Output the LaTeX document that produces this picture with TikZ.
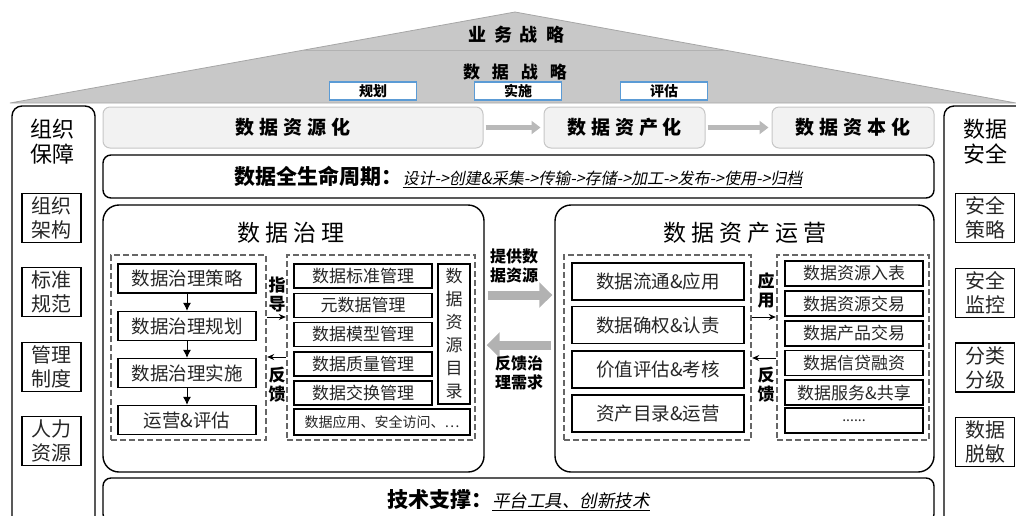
\documentclass[tikz,border=0pt]{standalone}
\usepackage{fontspec}
\setmainfont{Noto Sans CJK SC}
\newfontfamily\itfont{Noto Sans CJK SC}[FakeSlant=0.2]
\usetikzlibrary{arrows.meta,positioning}
\definecolor{planblue}{HTML}{5B9BD5}
\definecolor{roofgray}{HTML}{C8C8C8}
\tikzset{
  roof/.style={fill=roofgray,draw=gray!70,line width=0.8pt},
  planbox/.style={draw=planblue,fill=white,line width=1.5pt,minimum width=87pt,minimum height=18pt,inner sep=0pt,font=\fontsize{14}{16}\selectfont\bfseries},
  colbox/.style={draw,line width=1.4pt,rounded corners=10pt},
  coltitle/.style={align=center,font=\fontsize{22}{25}\selectfont},
  sidebox/.style={draw,line width=1.3pt,minimum width=59pt,minimum height=49pt,inner sep=0pt,align=center,font=\fontsize{20}{24}\selectfont,text=black!85},
  stagebox/.style={draw=gray!45,fill=gray!10,line width=1pt,rounded corners=7pt,minimum height=41pt,inner sep=0pt,font=\fontsize{19}{22}\selectfont\bfseries},
  stagearrow/.style={draw=gray!55,line width=5pt,-{Triangle[length=9pt,width=13pt]},shorten <=2pt,shorten >=3pt},
  linebox/.style={draw,line width=1.4pt,rounded corners=8pt,minimum width=831pt,inner sep=0pt},
  bigbox/.style={draw,line width=1.4pt,rounded corners=16pt,minimum height=267pt,inner sep=0pt},
  bigtitle/.style={font=\fontsize{23}{26}\selectfont},
  dashbox/.style={draw=black!60,line width=2.4pt,dash pattern=on 6pt off 3pt,minimum height=185pt,inner sep=0pt},
  stepbox/.style={draw,line width=1.3pt,inner sep=0pt,font=\fontsize{18.5}{22}\selectfont,text=black!85},
  mgbox/.style={draw,line width=1.3pt,inner sep=0pt,font=\fontsize{17}{20}\selectfont,text=black!85},
  steparrow/.style={-{Latex[length=8pt,width=8pt]},line width=1pt},
  thinarrow/.style={-{Stealth[length=7pt,width=6pt]},line width=1pt},
  sidelabel/.style={align=center,inner sep=0pt,font=\fontsize{17}{19}\selectfont\bfseries},
  midlabel/.style={align=center,inner sep=0pt,font=\fontsize{16}{18.5}\selectfont\bfseries},
  bigarrow/.style={draw=gray!60,line width=9pt,-{Triangle[length=13pt,width=25pt]},shorten <=3pt,shorten >=2pt}
}
\begin{document}
\begin{tikzpicture}[x=1pt,y=-1pt]
\useasboundingbox (0,0) rectangle (1016,515);
\filldraw[roof] (10,103) -- (515,12) -- (1016,103) -- cycle;
\draw[gray!60,line width=1pt] (302,50) -- (726,50);
\node[font=\fontsize{18}{20}\selectfont\bfseries] (biz) at (516,35) {业\hspace{8pt}务\hspace{8pt}战\hspace{8pt}略};
\node[font=\fontsize{17}{20}\selectfont\bfseries] (dstr) at (515,72) {数\hspace{12pt}据\hspace{12pt}战\hspace{12pt}略};
\foreach \x/\lb [count=\i] in {373/规划,518/实施,664/评估}{\node[planbox] (p\i) at (\x,91) {\lb};}
\draw[colbox] (12,106) rectangle (95,540);
\draw[colbox] (944,106) rectangle (1030,540);
\node[coltitle] (orgt) at (52,142) {组织\\保障};
\node[coltitle] (sect) at (985,142) {数据\\安全};
\foreach \y/\lb [count=\i] in {218/{组织\\架构},292/{标准\\规范},367/{管理\\制度},441/{人力\\资源}}{\node[sidebox] (o\i) at (51.5,\y) {\lb};}
\foreach \y/\lb [count=\i] in {218/{安全\\策略},293/{安全\\监控},367.5/{分类\\分级},442/{数据\\脱敏}}{\node[sidebox] (q\i) at (985,\y) {\lb};}
\node[stagebox,minimum width=380pt] (res) at (293,127.5) {数\hspace{5pt}据\hspace{5pt}资\hspace{5pt}源\hspace{5pt}化};
\node[stagebox,minimum width=161pt] (ast) at (624.5,127.5) {数\hspace{5pt}据\hspace{5pt}资\hspace{5pt}产\hspace{5pt}化};
\node[stagebox,minimum width=162pt] (cap) at (853,127.5) {数\hspace{5pt}据\hspace{5pt}资\hspace{5pt}本\hspace{5pt}化};
\draw[stagearrow] (res) -- (ast);
\draw[stagearrow] (ast) -- (cap);
\node[linebox,minimum height=43pt] (life) at (518.5,176.5) {{\fontsize{21}{24}\selectfont\bfseries 数据全生命周期：}{\itfont\fontsize{16}{18}\selectfont\underline{设计->创建\&采集->传输->存储->加工->发布->使用->归档}}};
\node[bigbox,minimum width=381pt] (gov) at (293.5,338.5) {};
\node[bigtitle] (govt) at (291,233) {数\hspace{5pt}据\hspace{5pt}治\hspace{5pt}理};
\node[dashbox,minimum width=155pt] (gl) at (188.5,347.5) {};
\node[dashbox,minimum width=188pt] (gr) at (381,347.5) {};
\foreach \y/\lb [count=\i] in {278.5/数据治理策略,326/数据治理规划,373/数据治理实施,420/运营\&评估}{\node[stepbox,minimum width=138pt,minimum height=29pt] (s\i) at (187,\y) {\lb};}
\foreach \i/\j in {1/2,2/3,3/4}{\draw[steparrow] (s\i) -- (s\j);}
\foreach \y/\lb [count=\i] in {276/数据标准管理,305.5/元数据管理,334.5/数据模型管理,364/数据质量管理,393/数据交换管理}{\node[mgbox,minimum width=138pt,minimum height=24pt] (m\i) at (363,\y) {\lb};}
\node[mgbox,minimum width=32pt,minimum height=140pt,align=center,font=\fontsize{17}{23}\selectfont] (cat) at (454,334) {数\\据\\资\\源\\目\\录};
\node[mgbox,minimum width=176pt,minimum height=26pt,font=\fontsize{14}{16}\selectfont] (app) at (382,422) {数据应用、安全访问、…};
\coordinate (yg) at (0,317);
\coordinate (yf) at (0,357);
\draw[thinarrow] (gl.east |- yg) -- (gr.west |- yg);
\draw[thinarrow] (gr.west |- yf) -- (gl.east |- yf);
\node[sidelabel] (guide) at (277,295) {指\\导};
\node[sidelabel] (fb1) at (277,385) {反\\馈};
\node[bigbox,minimum width=379pt] (ops) at (744.5,338.5) {};
\node[bigtitle] (opst) at (745,233) {数\hspace{5pt}据\hspace{5pt}资\hspace{5pt}产\hspace{5pt}运\hspace{5pt}营};
\coordinate (yp) at (0,295);
\coordinate (yq) at (0,345);
\draw[bigarrow] (gov.east |- yp) -- (ops.west |- yp);
\draw[bigarrow] (ops.west |- yq) -- (gov.east |- yq);
\node[midlabel] (give) at (514,266) {提供数\\据资源};
\node[midlabel] (need) at (519,373) {反馈治\\理需求};
\node[dashbox,minimum width=187pt] (ol) at (657.5,347.5) {};
\node[dashbox,minimum width=152pt] (or) at (853,347.5) {};
\foreach \y/\lb [count=\i] in {281.5/数据流通\&应用,325/数据确权\&认责,369.5/价值评估\&考核,413.5/资产目录\&运营}{\node[stepbox,minimum width=172pt,minimum height=37pt] (u\i) at (658,\y) {\lb};}
\foreach \y/\lb [count=\i] in {273.5/数据资源入表,303.5/数据资源交易,333.5/数据产品交易,363/数据信贷融资,392.5/数据服务\&共享}{\node[mgbox,minimum width=138pt,minimum height=25pt] (r\i) at (854,\y) {\lb};}
\node[mgbox,minimum width=138pt,minimum height=25pt,font=\fontsize{14}{16}\selectfont] (r6) at (854,420.5) {......};
\coordinate (ya) at (0,317);
\coordinate (yb) at (0,358);
\draw[thinarrow] (ol.east |- ya) -- (or.west |- ya);
\draw[thinarrow] (or.west |- yb) -- (ol.east |- yb);
\node[sidelabel] (use) at (766,290) {应\\用};
\node[sidelabel] (fb2) at (766,385) {反\\馈};
\node[linebox,minimum height=44pt] (tech) at (518.5,500) {{\fontsize{21}{24}\selectfont\bfseries 技术支撑：}{\itfont\fontsize{17.5}{20}\selectfont\underline{平台工具、创新技术}}};
\end{tikzpicture}
\end{document}
